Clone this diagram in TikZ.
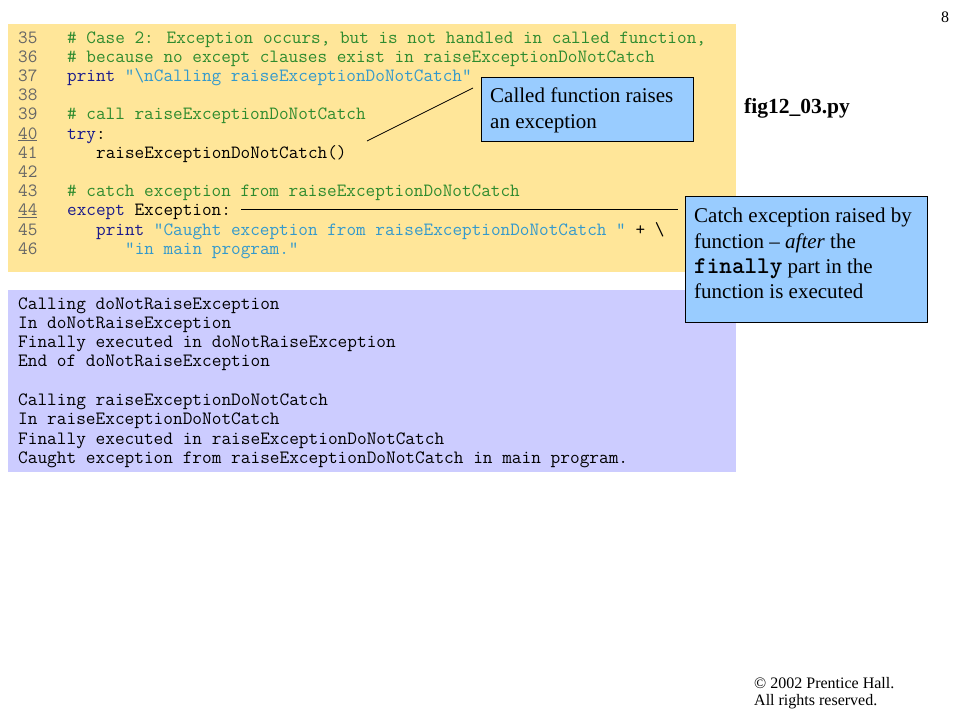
\documentclass[tikz,border=0pt]{standalone}
\usepackage{fontspec}
\setmainfont{Liberation Serif}
\definecolor{codebg}{HTML}{FFE699}
\definecolor{outbg}{HTML}{CCCCFF}
\definecolor{callbg}{HTML}{99CCFF}
\definecolor{cmtc}{HTML}{2E8B2E}
\definecolor{kwdc}{HTML}{1A1A8C}
\definecolor{strc}{HTML}{3399CC}
\definecolor{numc}{HTML}{666666}
\newcommand{\cmt}[1]{\textcolor{cmtc}{#1}}
\newcommand{\kwd}[1]{\textcolor{kwdc}{#1}}
\newcommand{\strg}[1]{\textcolor{strc}{#1}}
\begin{document}
\begin{tikzpicture}[x=1pt,y=-1pt,
  codetxt/.style={anchor=base west,inner sep=0pt,font=\ttfamily\fontsize{18.7}{20}\selectfont},
  outtxt/.style={anchor=base west,inner sep=0pt,font=\ttfamily\fontsize{18.8}{20}\selectfont},
  numtxt/.style={codetxt,text=numc},
  boxshape/.style={draw=black,fill=callbg,anchor=north west,inner sep=0pt},
  callouttxt/.style={anchor=north west,align=left,inner sep=0pt,font=\fontsize{21}{25.3}\selectfont},
  plain/.style={inner sep=0pt},
  conn/.style={draw=black,line width=0.8pt}]
\useasboundingbox (0,0) rectangle (960,720);
% backgrounds
\fill[codebg] (8,24) rectangle (736,272);
\fill[outbg] (8,290) rectangle (736,472);
% line numbers
\foreach \n [count=\i from 0] in {35,36,37,38,39,{\underline{40}},41,42,43,{\underline{44}},45,46}
  \node[numtxt] (ln\i) at (18,43+19.2*\i) {\n};
% code
\node[codetxt] (c0) at (67,43) {\cmt{\# Case 2: Exception occurs, but is not handled in called function,}};
\node[codetxt] (c1) at (67,62.2) {\cmt{\# because no except clauses exist in raiseExceptionDoNotCatch}};
\node[codetxt] (c2) at (67,81.4) {\kwd{print} \strg{"\textbackslash nCalling raiseExceptionDoNotCatch"}};
\node[codetxt] (c4) at (67,119.8) {\cmt{\# call raiseExceptionDoNotCatch}};
\node[codetxt] (c5) at (67,139) {\kwd{try}:};
\node[codetxt] (c6) at (96,158.2) {raiseExceptionDoNotCatch()};
\node[codetxt] (c8) at (67,196.6) {\cmt{\# catch exception from raiseExceptionDoNotCatch}};
\node[codetxt] (c9) at (67,215.8) {\kwd{except} Exception:};
\node[codetxt] (c10) at (96,235) {\kwd{print} \strg{"Caught exception from raiseExceptionDoNotCatch "} + \textbackslash};
\node[codetxt] (c11) at (125,254.2) {\strg{"in main program."}};
% output
\foreach \t [count=\i from 0] in {Calling doNotRaiseException,In doNotRaiseException,Finally executed in doNotRaiseException,End of doNotRaiseException}
  \node[outtxt] (o\i) at (18,309+19.3*\i) {\t};
\foreach \t [count=\i from 5] in {Calling raiseExceptionDoNotCatch,In raiseExceptionDoNotCatch,Finally executed in raiseExceptionDoNotCatch,Caught exception from raiseExceptionDoNotCatch in main program.}
  \node[outtxt] (o\i) at (18,309+19.3*\i) {\t};
% callouts
\node[boxshape,minimum width=212pt,minimum height=64pt] (call1) at (481,77) {};
\node[callouttxt] (t1) at (490,88) {Called function raises\\an exception};
\node[boxshape,minimum width=242pt,minimum height=126pt] (call2) at (685,196) {};
\node[callouttxt] (t2) at (694,208) {Catch exception raised by\\function -- \textit{after} the\\{\ttfamily\bfseries\fontsize{24}{25}\selectfont finally} part in the\\function is executed};
\coordinate (a1) at (367,141);
\coordinate (b1) at (473,88);
\draw[conn] (a1) -- (b1);
\coordinate (a2) at (241,209.5);
\coordinate (b2) at (678,209.5);
\draw[conn] (a2) -- (b2);
% titles
\node[plain,font=\bfseries\fontsize{21.5}{24}\selectfont] (fig) at (797,108) {fig12\_03.py};
\node[plain,font=\fontsize{16}{19}\selectfont] (pg) at (945,17) {8};
\node[plain,anchor=west,font=\fontsize{16}{19}\selectfont] (cp1) at (754,683) {© 2002 Prentice Hall.};
\node[plain,anchor=west,font=\fontsize{16}{19}\selectfont] (cp2) at (754,702) {All rights reserved.};
\end{tikzpicture}
\end{document}
